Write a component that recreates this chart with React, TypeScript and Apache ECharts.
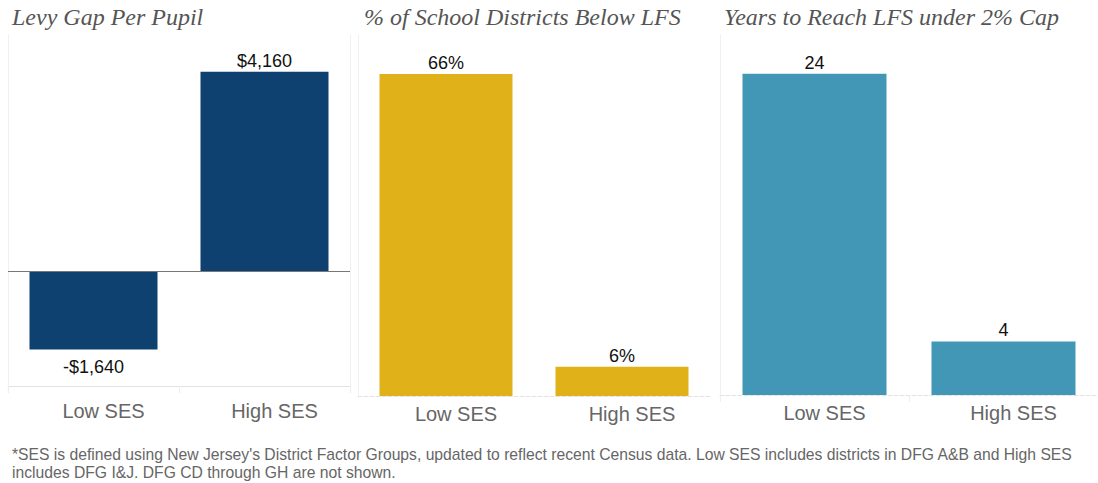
import React, { useEffect, useRef } from "react";
import * as echarts from "echarts";

const categories = ["Low SES", "High SES"];
const levyGap = [-1640, 4160];
const pctBelow = [66, 6];
const yearsToReach = [24, 4];
const titles = ["Levy Gap Per Pupil", "% of School Districts Below LFS", "Years to Reach LFS under 2% Cap"];
const footnote =
  "*SES is defined using New Jersey's District Factor Groups, updated to reflect recent Census data. Low SES includes districts in DFG A&B and High SES\nincludes DFG I&J. DFG CD through GH are not shown.";

const colors = ["#0e4170", "#e0b118", "#4397b6"];

export default function App() {
  const ref = useRef<HTMLDivElement>(null);
  useEffect(() => {
    const chart = echarts.init(ref.current!, undefined, { renderer: "svg" });
    const grids = [
      { left: 8, top: 35, width: 342, height: 351 },
      { left: 358, top: 35, width: 352, height: 361 },
      { left: 720, top: 35, width: 384, height: 360 },
    ];
    const yRanges = [
      { min: -2400, max: 4930 },
      { min: 0, max: 74 },
      { min: 0, max: 26.9 },
    ];
    const barWidths = [128, 133, 144];
    const fmt = [
      (v: number) => (v < 0 ? "-$" : "$") + Math.abs(v).toLocaleString("en-US"),
      (v: number) => v + "%",
      (v: number) => String(v),
    ];
    const datasets = [levyGap, pctBelow, yearsToReach];
    const labelFont = "Liberation Sans, Arial, sans-serif";

    const yAxes: any[] = grids.map((_, i) => ({
      type: "value",
      gridIndex: i,
      min: yRanges[i].min,
      max: yRanges[i].max,
      axisLine: { show: true, lineStyle: { color: "#f0f0f0" } },
      axisTick: { show: false },
      axisLabel: { show: false },
      splitLine: { show: false },
    }));
    yAxes.push({
      type: "value",
      gridIndex: 0,
      position: "right",
      min: yRanges[0].min,
      max: yRanges[0].max,
      axisLine: { show: true, lineStyle: { color: "#f0f0f0" } },
      axisTick: { show: false },
      axisLabel: { show: false },
      splitLine: { show: false },
    });

    const option: any = {
      animation: false,
      title: titles.map((t, i) => ({
        text: t,
        left: [7, 359, 719][i],
        top: 0,
        textStyle: {
          fontFamily: "Liberation Serif, serif",
          fontStyle: "italic",
          fontWeight: "normal",
          fontSize: 24,
          color: "#555555",
        },
      })),
      grid: grids.map((g) => ({ ...g, containLabel: false })),
      xAxis: grids.map((_, i) => ({
        type: "category",
        gridIndex: i,
        data: categories,
        axisLine: {
          onZero: false,
          lineStyle: { color: "#e2e2e2", type: i === 0 ? "solid" : "dashed" },
        },
        axisTick: { show: i !== 1, length: 7, lineStyle: { color: "#eeeeee" } },
        axisLabel: {
          fontFamily: labelFont,
          fontSize: 20,
          color: "#666666",
          margin: i === 0 ? 15 : 8,
          padding: [0, 0, 0, 20],
        },
      })),
      yAxis: yAxes,
      series: datasets.map((d, i) => ({
        type: "bar",
        xAxisIndex: i,
        yAxisIndex: i,
        barWidth: barWidths[i],
        itemStyle: { color: colors[i] },
        data: d.map((v) => ({
          value: v,
          label: { position: v < 0 ? "bottom" : "top", distance: v < 0 ? 8 : 2 },
        })),
        label: {
          show: true,
          fontFamily: labelFont,
          fontSize: 18,
          color: "#111111",
          formatter: (p: any) => fmt[i](p.value),
        },
        markLine:
          i === 0
            ? {
                silent: true,
                symbol: "none",
                label: { show: false },
                lineStyle: { color: "#777777", type: "solid", width: 1 },
                data: [{ yAxis: 0 }],
              }
            : undefined,
      })),
      graphic: [
        {
          type: "text",
          left: 12,
          top: 445,
          style: {
            text: footnote,
            fontFamily: labelFont,
            fontSize: 15.7,
            lineHeight: 18,
            fill: "#666666",
          },
        },
      ],
    };
    chart.setOption(option);
    return () => chart.dispose();
  }, []);
  return (
    <div
      ref={ref}
      style={{ position: "fixed", left: 0, top: 0, width: 1098, height: 483, background: "#fff" }}
    />
  );
}
